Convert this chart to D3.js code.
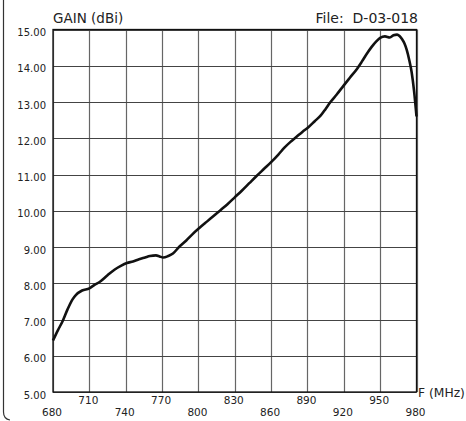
<!DOCTYPE html>
<html><head><meta charset="utf-8">
<script src="https://cdn.jsdelivr.net/npm/d3@7"></script>
<style>body{margin:0;background:#fff}svg{display:block}</style>
</head><body>
<script>
const freq = [680,684,688,692,696,699,704,710,714,719,725,731,736,741,746,751,756,760,765,768,771,775,779,784,790,795,801,807,812,818,824,830,836,842,848,854,860,866,871,876,881,886,891,896,901,905,909,914,920,925,931,935,939,943,947,950,954,958,961,964,966,968,970,972,974,976,978,980];
const gain = [6.42,6.70,6.96,7.28,7.55,7.68,7.80,7.86,7.95,8.05,8.22,8.38,8.48,8.56,8.60,8.66,8.71,8.75,8.77,8.74,8.71,8.75,8.82,9.00,9.18,9.35,9.53,9.70,9.84,10.01,10.18,10.37,10.56,10.76,10.96,11.15,11.34,11.55,11.74,11.90,12.04,12.18,12.31,12.47,12.63,12.81,13.00,13.20,13.46,13.67,13.92,14.12,14.33,14.52,14.68,14.77,14.81,14.78,14.84,14.86,14.82,14.74,14.62,14.43,14.16,13.82,13.30,12.60];
const xTicks = [680,710,740,770,800,830,860,890,920,950,980];
const yTicks = [5,6,7,8,9,10,11,12,13,14,15];
const yTitle = "GAIN (dBi)";
const fileLabel = "File:  D-03-018";
const xTitle = "F (MHz)";

const W = 466, H = 421;
const L = 53, R = 416.5, T = 29.5, B = 392;
const font = "'DejaVu Sans', sans-serif";
const svg = d3.select("body").append("svg").attr("width", W).attr("height", H);

// outer frame fragment (left edge, rounded bottom)
svg.append("path").attr("d", `M3.5,0 L3.5,412 Q3.5,419 10,420`)
  .attr("fill","none").attr("stroke","#333").attr("stroke-width",1.2);

const x = d3.scaleLinear().domain([680,980]).range([L,R]);
const y = d3.scaleLinear().domain([5,15]).range([B,T]);

const g = svg.append("g");
// grid
g.selectAll("line.vg").data(xTicks).join("line")
  .attr("x1",d=>Math.round(x(d))+0.5).attr("x2",d=>Math.round(x(d))+0.5)
  .attr("y1",T).attr("y2",B).attr("stroke","#666").attr("stroke-width",1.2);
g.selectAll("line.hg").data(yTicks).join("line")
  .attr("y1",d=>Math.round(y(d))+0.5).attr("y2",d=>Math.round(y(d))+0.5)
  .attr("x1",L).attr("x2",R).attr("stroke","#444").attr("stroke-width",1.2);
// frame
g.append("rect").attr("x",L).attr("y",T).attr("width",R-L).attr("height",B-T)
  .attr("fill","none").attr("stroke","#111").attr("stroke-width",1.3);

// y tick labels
g.selectAll("text.yl").data(yTicks).join("text")
  .attr("x",46).attr("y",d=>y(d)+6.5).attr("text-anchor","end")
  .attr("font-family",font).attr("font-size",10).attr("fill","#222")
  .text(d=>d.toFixed(2));
// x tick labels (alternating rows)
g.selectAll("text.xl").data(xTicks).join("text")
  .attr("x",d=>x(d)-1).attr("y",(d,i)=> i%2===0 ? 416 : 404).attr("text-anchor","middle")
  .attr("font-family",font).attr("font-size",10.5).attr("fill","#222")
  .text(d=>d);

svg.append("text").attr("x",L).attr("y",23).attr("font-family",font).attr("font-size",13.5)
  .attr("fill","#222").text(yTitle);
svg.append("text").attr("x",418).attr("y",23).attr("text-anchor","end").attr("font-family",font)
  .attr("font-size",14).attr("fill","#222").attr("xml:space","preserve").style("white-space","pre").text(fileLabel);
svg.append("text").attr("x",418).attr("y",397).attr("font-family",font).attr("font-size",12.3)
  .attr("fill","#222").text(xTitle);

// curve
const line = d3.line().x((d,i)=>x(freq[i])).y(d=>y(d)).curve(d3.curveMonotoneX);
svg.append("path").datum(gain).attr("d",line).attr("fill","none")
  .attr("stroke","#111").attr("stroke-width",2.6).attr("stroke-linejoin","round");
</script>
</body></html>
